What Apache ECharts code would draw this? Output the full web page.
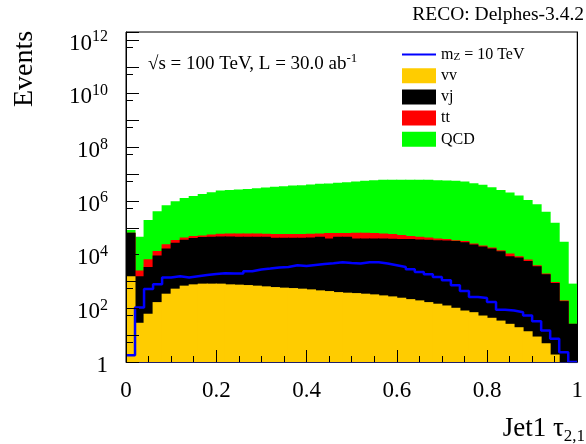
<!DOCTYPE html>
<html><head><meta charset="utf-8">
<script src="https://cdn.jsdelivr.net/npm/echarts@6/dist/echarts.min.js"></script>
<style>html,body{margin:0;padding:0;background:#fff}#c{width:586px;height:444px}</style>
</head><body><div id="c"></div>
<script>
// Bin edges (Jet1 tau_2,1), 50 bins
const binEdges = [0,0.02,0.04,0.06,0.08,0.1,0.12,0.14,0.16,0.18,0.2,0.22,0.24,0.26,0.28,0.3,0.32,0.34,0.36,0.38,0.4,0.42,0.44,0.46,0.48,0.5,0.52,0.54,0.56,0.58,0.6,0.62,0.64,0.66,0.68,0.7,0.72,0.74,0.76,0.78,0.8,0.82,0.84,0.86,0.88,0.9,0.92,0.94,0.96,0.98,1];

// Backgrounds (stacked, individual contributions)
const vv = [1570,29,63,171,352,542,702,785,834,834,834,785,765,739,702,661,622,591,571,542,510,468,441,404,384,371,352,332,304,279,249,221,198,171,149,128,105,83,72,54,44.5,35,26.5,19.8,14,8.9,5.0,1.9,null,null];
const vj = [63900,1540,3430,9160,16700,27200,35100,40700,44400,45600,47200,47300,45600,45700,45700,45700,42000,42000,42000,42100,43600,45900,40000,46000,46000,40000,40000,40100,40100,38800,37850,37900,36900,35600,34750,33900,31950,29300,24030,20230,17020,13485,8760,7830,5850,3700,1855,877,186,26.5];
const tt = [null,990,3290,4540,7640,7200,8300,7800,7200,10700,12000,14100,15800,15800,15800,13700,16000,16000,16000,16000,16000,15800,23500,17500,17500,25100,25100,23500,21800,19500,15600,11200,9330,8300,5500,4070,2840,2680,2160,1850,1560,1230,2300,940,750,330,117,79,12,null];
const qcd = [17300,43800,189000,401000,672000,949000,1262000,1503000,1793000,2081000,2393000,2544000,2611000,2778000,2953000,3117000,3314000,3522000,3717000,3849000,4053000,4303000,4423000,4700000,4994000,5264000,5594000,5946000,6108000,6111000,6116000,6121000,6124000,6126000,5970000,5772000,5625000,5298000,4619000,3987000,3270000,2591000,2053000,1583000,1092000,754600,399000,154200,29950,808];
// Signal m_Z = 10 TeV (not stacked)
const signal = [1.8,108,524,785,1400,1566,1400,1566,1750,1910,2030,1977,1977,2410,2790,3040,3320,3490,4040,3800,4150,4520,4810,5240,4930,4680,5240,5240,4680,4040,3490,2860,2270,1860,1475,1109,721,441,263,241,171,89,83,72,54,33,15,7.3,2.3,1];

const xTickLabels = ['0','0.2','0.4','0.6','0.8','1'];
const yLabelExps = [0,2,4,6,8,10,12];

const FONT = '"Liberation Serif", "Times New Roman", serif';
const bins = binEdges.slice(0, -1).map(String);

function cumulative(parts) {
  return bins.map((_, i) => {
    let s = 0, any = false;
    parts.forEach(a => { if (a[i] != null) { s += a[i]; any = true; } });
    return any && s > 0 ? s : '-';
  });
}
const lvVV = vv.map(v => v == null ? '-' : v);
const lvVJ = cumulative([vv, vj]);
const lvTT = cumulative([vv, vj, tt]);
const lvQCD = cumulative([vv, vj, tt, qcd]);
const sigPts = signal.map((v, i) => [binEdges[i], v]).concat([[binEdges[50], signal[49]]]);

const barBase = { type: 'bar', xAxisIndex: 0, yAxisIndex: 0, barGap: '-100%', barWidth: 10, animation: false, silent: true };
function barStyle(c) { return { color: c, borderWidth: 0 }; }

const chart = echarts.init(document.getElementById('c'), null, { renderer: 'canvas' });
chart.setOption({
  backgroundColor: '#fff',
  animation: false,
  grid: { left: 126, right: 2, top: 32, bottom: 82, show: true, borderColor: '#000', borderWidth: 1, backgroundColor: 'transparent' },
  legend: {
    orient: 'vertical', left: 396, top: 40.5, itemWidth: 34, itemHeight: 15, itemGap: 5.2,
    selectedMode: false,
    data: [{ name: 'mZ', itemStyle: { opacity: 0 } }, { name: 'vv', icon: 'rect' }, { name: 'vj', icon: 'rect' }, { name: 'tt', icon: 'rect' }, { name: 'QCD', icon: 'rect' }],
    formatter: n => n === 'mZ' ? '{n|m}{s|Z}{n| = 10 TeV}' : '{n|' + n + '}',
    textStyle: {
      fontFamily: FONT, fontSize: 16, color: '#000', padding: [0, 0, 0, 0],
      rich: {
        n: { fontFamily: FONT, fontSize: 16, lineHeight: 16, color: '#000' },
        s: { fontFamily: FONT, fontSize: 11, lineHeight: 16, color: '#000', verticalAlign: 'bottom', padding: [6, 0, 0, 0] }
      }
    }
  },
  xAxis: [
    { type: 'category', data: bins, show: false, gridIndex: 0 },
    {
      type: 'value', min: 0, max: 1, interval: 0.2, position: 'bottom', z: 10, gridIndex: 0,
      axisLine: { show: true, lineStyle: { color: '#202066', width: 1 } },
      axisTick: { show: true, inside: true, length: 12, lineStyle: { color: '#000' } },
      minorTick: { show: true, splitNumber: 4, length: 6, lineStyle: { color: '#000' } },
      splitLine: { show: false },
      axisLabel: { fontFamily: FONT, fontSize: 23, color: '#000', margin: 17,
        formatter: v => xTickLabels[Math.round(v / 0.2)] }
    }
  ],
  yAxis: [
    {
      type: 'log', logBase: 10, min: 1, max: 2e12, interval: 1, position: 'left', z: 10,
      axisLine: { show: true, lineStyle: { color: '#000' } },
      axisTick: { show: true, inside: true, length: 13, lineStyle: { color: '#000' } },
      minorTick: { show: true, splitNumber: 2, length: 7, lineStyle: { color: '#000' } },
      splitLine: { show: false }, minorSplitLine: { show: false },
      axisLabel: {
        margin: 18, padding: [4, 0, 0, 0],
        formatter: v => {
          const l = Math.log10(v); const e = Math.round(l);
          if (Math.abs(l - e) > 1e-6 || yLabelExps.indexOf(e) < 0) return '';
          return e === 0 ? '{b|1}' : '{b|10}{e|' + e + '}';
        },
        rich: {
          b: { fontFamily: FONT, fontSize: 23, color: '#000', lineHeight: 26, verticalAlign: 'bottom' },
          e: { fontFamily: FONT, fontSize: 16, color: '#000', lineHeight: 16, verticalAlign: 'top' }
        }
      }
    },
    {
      type: 'log', logBase: 10, min: 1, max: 2e12, position: 'right', z: 10,
      axisLine: { show: true, lineStyle: { color: '#000' } },
      axisTick: { show: false }, axisLabel: { show: false }, splitLine: { show: false }
    }
  ],
  series: [
    Object.assign({}, barBase, { name: 'QCD', data: lvQCD, itemStyle: barStyle('#00ff00') }),
    Object.assign({}, barBase, { name: 'tt', data: lvTT, itemStyle: barStyle('#ff0000') }),
    Object.assign({}, barBase, { name: 'vj', data: lvVJ, itemStyle: barStyle('#000000') }),
    Object.assign({}, barBase, { name: 'vv', data: lvVV, itemStyle: barStyle('#ffcc00') }),
    { type: 'line', name: 'mZ', xAxisIndex: 1, yAxisIndex: 0, data: sigPts, step: 'end', symbol: 'none', showSymbol: false,
      lineStyle: { color: '#0000ff', width: 2.5 }, itemStyle: { color: '#0000ff' }, z: 5, animation: false, silent: true }
  ],
  graphic: [
    { type: 'text', x: 584, y: 15, style: { text: 'RECO: Delphes-3.4.2', font: '19.5px ' + FONT, fill: '#000', textAlign: 'right', textVerticalAlign: 'middle', align: 'right', verticalAlign: 'middle' } },
    { type: 'text', x: 25, y: 69, rotation: Math.PI / 2, style: { text: 'Events', font: '28px ' + FONT, fill: '#000', textAlign: 'center', textVerticalAlign: 'middle', align: 'center', verticalAlign: 'middle' } },
    { type: 'text', x: 148, y: 63, style: {
        text: '{a|√s = 100 TeV, L = 30.0 ab}{s|-1}', textVerticalAlign: 'middle', verticalAlign: 'middle',
        rich: { a: { font: '19px ' + FONT, fill: '#000', color: '#000', lineHeight: 22, verticalAlign: 'bottom' },
                s: { font: '13px ' + FONT, fill: '#000', color: '#000', lineHeight: 13, verticalAlign: 'top' } } } },
    { type: 'text', x: 585, y: 430, style: {
        text: '{a|Jet1 τ}{s|2,1}', textAlign: 'right', align: 'right', textVerticalAlign: 'middle', verticalAlign: 'middle',
        rich: { a: { font: '27px ' + FONT, fill: '#000', color: '#000', lineHeight: 30, verticalAlign: 'top' },
                s: { font: '17px ' + FONT, fill: '#000', color: '#000', lineHeight: 17, verticalAlign: 'bottom' } } } }
  ]
});
</script></body></html>
